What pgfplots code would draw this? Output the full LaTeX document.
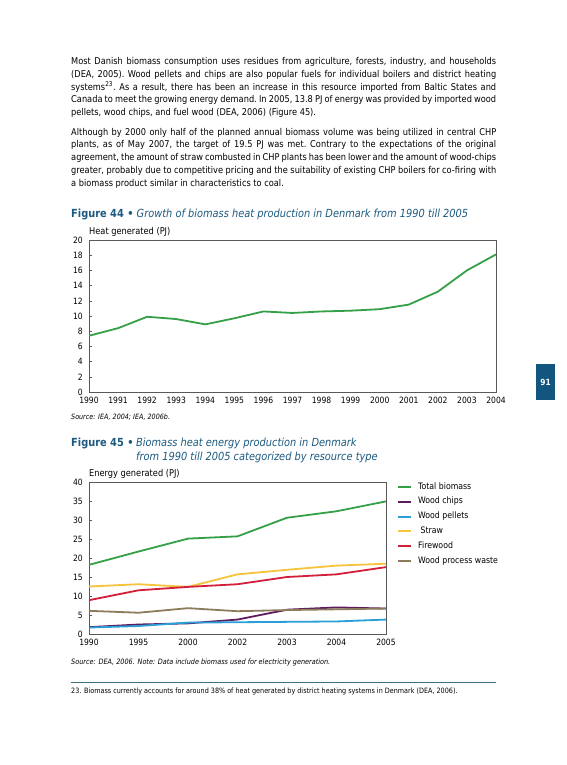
\documentclass[border=0pt]{standalone}
\usepackage{fontspec}
\setmainfont{DejaVu Sans}[FakeStretch=0.88]
\usepackage{pgfplots}
\pgfplotsset{compat=1.18}

\definecolor{headblue}{HTML}{1C5A80}
\definecolor{tabblue}{HTML}{12557F}
\definecolor{rulecol}{HTML}{3F6E7E}
\definecolor{cgreen}{HTML}{35A047}
\definecolor{cpurple}{HTML}{5E1A5E}
\definecolor{cblue}{HTML}{2A9FD8}
\definecolor{cyellow}{HTML}{F5C33C}
\definecolor{cred}{HTML}{D21F3A}
\definecolor{cbrown}{HTML}{8C7C5C}

% one justified line of body text
\newcommand{\jline}[2]{\node[anchor=base west, inner sep=0pt] at (71bp,-#1bp)
  {\fontsize{9.4}{11}\selectfont\frenchspacing\hbox to 425bp{#2}};}
\newcommand{\lline}[2]{\node[anchor=base west, inner sep=0pt] at (71bp,-#1bp)
  {\fontsize{9.4}{11}\selectfont\frenchspacing #2};}

\pgfplotsset{
  page chart/.style={
    scale only axis,
    axis line style={gray!70!black, line width=0.6bp},
    tick align=inside,
    tick pos=left,
    major tick length=3bp,
    ytick style={gray!70!black, line width=0.6bp},
    xtick style={draw=none},
    ticklabel style={font=\fontsize{8.7}{9}\selectfont, inner sep=0pt},
    yticklabel shift=6bp,
    xticklabel shift=5bp,
    /pgf/number format/assume math mode=true,
    /pgf/number format/1000 sep={},
  },
}

\begin{document}
\begin{tikzpicture}
\path[fill=white] (0bp,0bp) rectangle (567bp,-765bp);

% body text
\jline{64}{Most Danish biomass consumption uses residues from agriculture, forests, industry, and households}
\jline{77}{(DEA, 2005). Wood pellets and chips are also popular fuels for individual boilers and district heating}
\jline{90}{systems\textsuperscript{23}. As a result, there has been an increase in this resource imported from Baltic States and}
\jline{102}{Canada to meet the growing energy demand. In 2005, 13.8 PJ of energy was provided by imported wood}
\lline{115}{pellets, wood chips, and fuel wood (DEA, 2006) (Figure 45).}
\jline{135}{Although by 2000 only half of the planned annual biomass volume was being utilized in central CHP}
\jline{147}{plants, as of May 2007, the target of 19.5 PJ was met. Contrary to the expectations of the original}
\jline{160}{agreement, the amount of straw combusted in CHP plants has been lower and the amount of wood-chips}
\jline{173}{greater, probably due to competitive pricing and the suitability of existing CHP boilers for co-firing with}
\lline{186}{a biomass product similar in characteristics to coal.}

% Figure 44
\node[anchor=base west, inner sep=0pt, text=headblue] at (71bp,-217bp)
  {\fontsize{11.2}{13}\selectfont\textbf{Figure 44 \textbullet} \textit{Growth of biomass heat production in Denmark from 1990 till 2005}};
\node[anchor=west, inner sep=0pt] at (89bp,-232bp) {\fontsize{9.4}{10}\selectfont Heat generated (PJ)};

\begin{axis}[page chart,
  at={(89bp,-392bp)}, anchor=south west,
  width=407bp, height=152bp,
  xmin=1990, xmax=2004, ymin=0, ymax=20,
  xtick={1990,1991,...,2004},
  ytick={0,2,...,20},
]
\addplot[cgreen, line width=1.8bp] coordinates {
 (1990,7.4) (1991,8.4) (1992,9.9) (1993,9.6) (1994,8.9) (1995,9.7)
 (1996,10.6) (1997,10.4) (1998,10.6) (1999,10.7) (2000,10.9)
 (2001,11.5) (2002,13.2) (2003,16.0) (2004,18.1)};
\end{axis}

\node[anchor=west, inner sep=0pt] at (71bp,-417bp)
  {\fontsize{7.3}{8}\selectfont\itshape Source: IEA, 2004; IEA, 2006b.};

% Figure 45
\node[anchor=base west, inner sep=0pt, text=headblue] at (71bp,-446bp)
  {\fontsize{11.2}{13}\selectfont\textbf{Figure 45 \textbullet}};
\node[anchor=base west, inner sep=0pt, text=headblue] at (136bp,-446bp)
  {\fontsize{11.2}{13}\selectfont\itshape Biomass heat energy production in Denmark};
\node[anchor=base west, inner sep=0pt, text=headblue] at (136bp,-460bp)
  {\fontsize{11.2}{13}\selectfont\itshape from 1990 till 2005 categorized by resource type};
\node[anchor=west, inner sep=0pt] at (89bp,-474bp) {\fontsize{9.4}{10}\selectfont Energy generated (PJ)};

\begin{axis}[page chart,
  at={(89bp,-634bp)}, anchor=south west,
  width=297bp, height=152bp,
  xmin=0, xmax=6, ymin=0, ymax=40,
  xtick={0,...,6},
  xticklabels={1990,1995,2000,2002,2003,2004,2005},
  ytick={0,5,...,40},
  legend style={at={(1.037,0.993)}, anchor=north west, draw=none, fill=none,
    inner sep=0pt, font=\fontsize{8.9}{9}\selectfont, row sep=7.2bp,
    nodes={inner sep=0pt, text height=5.8bp, text depth=1.8bp}},
  legend cell align=left,
  legend image code/.code={\draw[#1, line width=2bp] (0bp,0bp) -- (13bp,0bp);},
  /tikz/every odd column/.append style={column sep=6bp},
]
\addplot[cgreen, line width=1.8bp] coordinates {
 (0,18.2) (1,21.7) (2,25.1) (3,25.7) (4,30.6) (5,32.3) (6,34.9)};
\addplot[cpurple, line width=1.8bp] coordinates {
 (0,1.8) (1,2.5) (2,2.8) (3,3.8) (4,6.4) (5,7.0) (6,6.7)};
\addplot[cblue, line width=1.8bp] coordinates {
 (0,1.7) (1,2.1) (2,3.0) (3,3.1) (4,3.2) (5,3.3) (6,3.8)};
\addplot[cyellow, line width=1.8bp] coordinates {
 (0,12.5) (1,13.1) (2,12.4) (3,15.7) (4,16.9) (5,18.0) (6,18.5)};
\addplot[cred, line width=1.8bp] coordinates {
 (0,8.9) (1,11.5) (2,12.4) (3,13.1) (4,15.0) (5,15.7) (6,17.6)};
\addplot[cbrown, line width=1.8bp] coordinates {
 (0,6.1) (1,5.6) (2,6.8) (3,6.0) (4,6.3) (5,6.5) (6,6.7)};
\legend{Total biomass, Wood chips, Wood pellets, \ Straw, Firewood, Wood process waste}
\end{axis}

\node[anchor=west, inner sep=0pt] at (71bp,-662bp)
  {\fontsize{7.4}{8}\selectfont\itshape Source: DEA, 2006. Note: Data include biomass used for electricity generation.};

% footnote
\draw[rulecol, line width=0.8bp] (71bp,-682bp) -- (496bp,-682bp);
\node[anchor=west, inner sep=0pt] at (71bp,-691bp)
  {\fontsize{7.35}{8}\selectfont 23. Biomass currently accounts for around 38\% of heat generated by district heating systems in Denmark (DEA, 2006).};

% page tab
\fill[tabblue] (536bp,-364bp) rectangle (555bp,-400bp);
\node[text=white, inner sep=0pt] at (545.5bp,-382bp) {\fontsize{8.5}{9}\selectfont\bfseries 91};
\end{tikzpicture}
\end{document}
